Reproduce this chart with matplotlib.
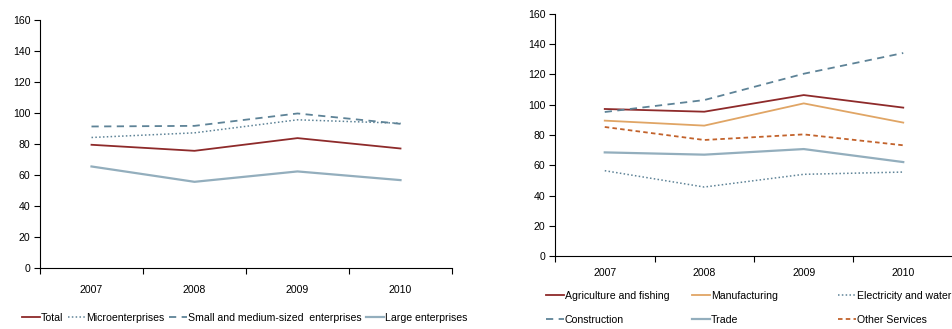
import matplotlib
matplotlib.use("Agg")
import matplotlib.pyplot as plt

plt.rcParams['font.family'] = ['Liberation Sans', 'DejaVu Sans']
plt.rcParams['font.size'] = 7.6

years = ["2007", "2008", "2009", "2010"]

# Left panel: by enterprise size
total = [79.5, 75.6, 83.8, 77.1]
micro = [84.2, 87.2, 95.6, 93.4]
sme = [91.3, 91.7, 99.7, 93.0]
large = [65.5, 55.6, 62.3, 56.7]

# Right panel: by sector
agri = [97.2, 95.4, 106.4, 98.1]
manuf = [89.5, 86.2, 100.9, 88.2]
elec = [56.4, 45.6, 54.0, 55.5]
constr = [95.2, 103.1, 120.5, 134.2]
trade = [68.5, 67.0, 70.7, 62.1]
other = [85.3, 76.7, 80.4, 73.2]

yticks = [0, 20, 40, 60, 80, 100, 120, 140, 160]

RED = "#8E2A2A"
BLUE = "#5E8397"
LIGHT = "#93AEBD"
TAN = "#E0A565"
ORANGE = "#C2622B"

W, H = 953, 329
fig = plt.figure(figsize=(W / 100, H / 100), dpi=100)

def style_ax(ax, xpad):
    x = list(range(1, len(years) + 1))
    ax.set_xlim(0.5, len(years) + 0.5)
    ax.set_ylim(0, 160)
    ax.set_yticks(yticks)
    ax.set_xticks([i + 0.5 for i in range(0, len(years) + 1)])
    ax.set_xticklabels([])
    ax.set_xticks(x, minor=True)
    ax.set_xticklabels(years, minor=True)
    ax.tick_params(axis='x', which='major', direction='out', length=4, width=0.8, color='black')
    ax.tick_params(axis='x', which='minor', length=0, pad=xpad)
    ax.tick_params(axis='y', direction='out', length=4, width=0.8, pad=3)
    for s in ['top', 'right']:
        ax.spines[s].set_visible(False)
    for s in ['left', 'bottom']:
        ax.spines[s].set_linewidth(0.8)
    return x

DOT = (0, (1, 1.5))
DASH = (0, (4, 3))
SHORTDASH = (0, (2.5, 1.8))

ax1 = fig.add_axes([40 / W, (H - 268) / H, 412 / W, 248 / H])
x = style_ax(ax1, 12)
l1, = ax1.plot(x, total, color=RED, lw=1.3, label="Total")
l2, = ax1.plot(x, micro, color=BLUE, lw=1.1, linestyle=DOT, label="Microenterprises")
l3, = ax1.plot(x, sme, color=BLUE, lw=1.3, linestyle=DASH, label="Small and medium-sized  enterprises")
l4, = ax1.plot(x, large, color=LIGHT, lw=1.6, label="Large enterprises")

fig.legend(handles=[l1, l2, l3, l4], loc='center left', bbox_to_anchor=(22 / W, 1 - 318 / H),
           ncol=4, frameon=False, handlelength=1.7, handletextpad=0.1, columnspacing=0.4,
           borderpad=0, borderaxespad=0)

ax2 = fig.add_axes([555 / W, (H - 256) / H, 398 / W, 242 / H])
x = style_ax(ax2, 9)
r1, = ax2.plot(x, agri, color=RED, lw=1.3, label="Agriculture and fishing")
r2, = ax2.plot(x, manuf, color=TAN, lw=1.3, label="Manufacturing")
r3, = ax2.plot(x, elec, color=BLUE, lw=1.1, linestyle=DOT, label="Electricity and water")
r4, = ax2.plot(x, constr, color=BLUE, lw=1.3, linestyle=DASH, label="Construction")
r5, = ax2.plot(x, trade, color=LIGHT, lw=1.6, label="Trade")
r6, = ax2.plot(x, other, color=ORANGE, lw=1.3, linestyle=SHORTDASH, label="Other Services")

for hs, xpos in [([r1, r4], 546), ([r2, r5], 692), ([r3, r6], 838)]:
    fig.legend(handles=hs, loc='upper left', bbox_to_anchor=(xpos / W, 1 - 291 / H),
               ncol=1, frameon=False, handlelength=1.7, handletextpad=0.1,
               labelspacing=1.3, borderpad=0, borderaxespad=0)

fig.savefig("out.png", dpi=100)
